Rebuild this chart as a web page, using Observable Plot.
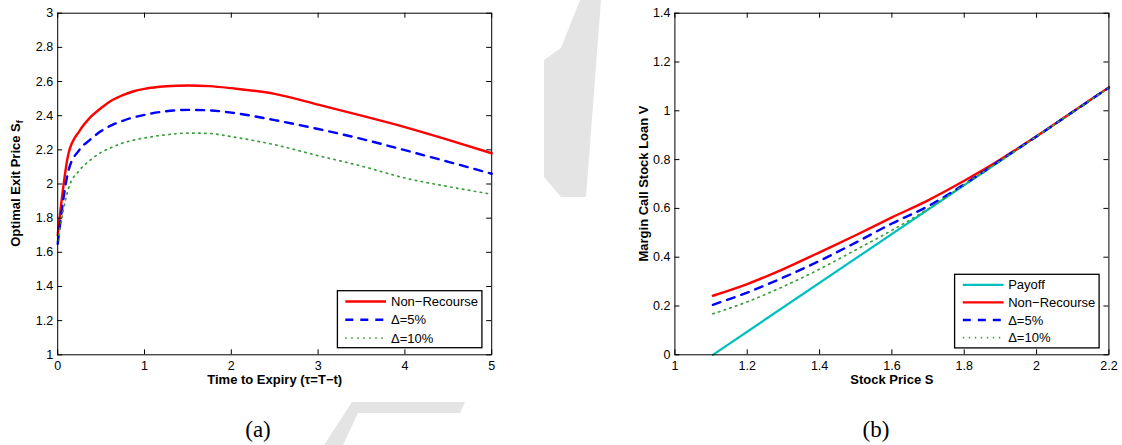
<!DOCTYPE html>
<html>
<head>
<meta charset="utf-8">
<script src="https://cdn.jsdelivr.net/npm/d3@7"></script>
<script src="https://cdn.jsdelivr.net/npm/@observablehq/plot@0.6"></script>
<style>
  body { margin: 0; background: #fff; }
  #wrap { position: relative; width: 1122px; height: 445px; overflow: hidden; background: #fff; }
  #bg { position: absolute; left: 0; top: 0; }
  .panel { position: absolute; top: 0; }
</style>
</head>
<body>
<div id="wrap">
  <svg id="bg" width="1122" height="445"></svg>
  <div class="panel" id="pa" style="left:0px"></div>
  <div class="panel" id="pb" style="left:561px"></div>
</div>
<script>
// ---------- data: panel (a) ----------
const tau = [0, 0.125, 0.25, 0.375, 0.5, 0.625, 0.75, 0.875, 1, 1.25, 1.5, 1.75, 2, 2.5, 3, 3.5, 4, 4.5, 5];
const sfNonRecourse = [1.70, 2.18, 2.31, 2.39, 2.445, 2.49, 2.52, 2.543, 2.557, 2.572, 2.577, 2.573, 2.561, 2.528, 2.465, 2.400, 2.333, 2.258, 2.18];
const sfDelta5 = [1.65, 2.08, 2.20, 2.26, 2.31, 2.345, 2.37, 2.39, 2.405, 2.426, 2.434, 2.431, 2.418, 2.374, 2.322, 2.264, 2.198, 2.130, 2.06];
const sfDelta10 = [1.665, 1.975, 2.08, 2.14, 2.185, 2.215, 2.24, 2.257, 2.27, 2.288, 2.298, 2.296, 2.277, 2.230, 2.166, 2.105, 2.035, 1.985, 1.94];
const xTicksA = [0, 1, 2, 3, 4, 5];
const yTicksA = [1, 1.2, 1.4, 1.6, 1.8, 2, 2.2, 2.4, 2.6, 2.8, 3];

// ---------- data: panel (b) ----------
const stock = [1.105, 1.2, 1.3, 1.4, 1.5, 1.6, 1.7, 1.8, 1.9, 1.95, 2.0, 2.1, 2.2];
const vNonRecourse = [0.242, 0.290, 0.351, 0.420, 0.490, 0.563, 0.633, 0.713, 0.800, 0.848, 0.896, 0.996, 1.096];
const vDelta5 = [0.205, 0.255, 0.317, 0.385, 0.460, 0.538, 0.609, 0.699, 0.797, 0.846, 0.895, 0.995, 1.095];
const vDelta10 = [0.168, 0.217, 0.280, 0.351, 0.430, 0.510, 0.598, 0.697, 0.795, 0.845, 0.895, 0.995, 1.095];
const payoffS = [1.105, 2.2];
const payoffV = [0, 1.095];
const xTicksB = [1, 1.2, 1.4, 1.6, 1.8, 2, 2.2];
const yTicksB = [0, 0.2, 0.4, 0.6, 0.8, 1, 1.2, 1.4];

// ---------- text ----------
const labelsA = {x: "Time to Expiry (\u03C4=T\u2212t)", y: "Optimal Exit Price S", ySub: "f"};
const labelsB = {x: "Stock Price S", y: "Margin Call Stock Loan V", ySub: ""};
const legendA = ["Non\u2212Recourse", "\u0394=5%", "\u0394=10%"];
const legendB = ["Payoff", "Non\u2212Recourse", "\u0394=5%", "\u0394=10%"];
const captions = ["(a)", "(b)"];

// ---------- styles ----------
const sty = {
  payoff: {stroke: "#00bfbf", strokeWidth: 2.2},
  nr: {stroke: "#ff0000", strokeWidth: 2.4},
  d5: {stroke: "#0000ff", strokeWidth: 2.4, strokeDasharray: "8,7"},
  d10: {stroke: "#3a9e3a", strokeWidth: 1.7, strokeDasharray: "1.4,4.6"}
};
const fmt = d3.format("~g");
const FONT = "'Liberation Sans', Arial, Helvetica, sans-serif";

const W = 561, H = 400, MT = 12.7, MB = 45.7;

function panel({marginLeft, marginRight, xDomain, yDomain, xTicks, yTicks, lines, labels}) {
  const plotW = W - marginLeft - marginRight;
  const plotH = H - MT - MB;
  const svg = Plot.plot({
    width: W, height: H,
    marginLeft, marginRight, marginTop: MT, marginBottom: MB,
    x: {domain: xDomain},
    y: {domain: yDomain},
    style: {background: "transparent", color: "black", fontFamily: FONT, fontSize: "13px", overflow: "visible"},
    marks: [
      ...lines,
      Plot.frame({stroke: "black", strokeWidth: 1}),
      Plot.tickX(xTicks, {x: d => d, stroke: "black", insetTop: plotH - 5}),
      Plot.tickX(xTicks, {x: d => d, stroke: "black", insetBottom: plotH - 5}),
      Plot.tickY(yTicks, {y: d => d, stroke: "black", insetRight: plotW - 5}),
      Plot.tickY(yTicks, {y: d => d, stroke: "black", insetLeft: plotW - 5}),
      Plot.axisX({ticks: xTicks, tickSize: 0, tickPadding: 6.5, tickFormat: fmt, label: null, fontSize: 12.5}),
      Plot.axisY({ticks: yTicks, tickSize: 0, tickPadding: 4.5, tickFormat: fmt, label: null, fontSize: 12.5}),
      Plot.text([labels.x], {text: d => d, frameAnchor: "bottom", dy: 29, fontWeight: "bold", fontSize: 13})
    ]
  });
  return svg;
}

function yLabel(svg, x, y, label, sub) {
  const t = d3.select(svg).append("text")
    .attr("transform", `translate(${x},${y}) rotate(-90)`)
    .attr("text-anchor", "middle")
    .attr("font-family", FONT)
    .attr("font-weight", "bold")
    .attr("font-size", 13)
    .attr("fill", "black");
  t.append("tspan").attr("dy", "0.35em").text(label);
  if (sub) t.append("tspan").attr("font-size", 9).attr("dy", 3.5).text(sub);
}

function legend(svg, box, names, styles) {
  const g = d3.select(svg).append("g").attr("text-anchor", "start");
  g.append("rect").attr("x", box.x).attr("y", box.y).attr("width", box.w).attr("height", box.h)
    .attr("fill", "white").attr("stroke", "black").attr("stroke-width", 1.3);
  names.forEach((name, i) => {
    const y = box.y0 + i * box.dy;
    const s = styles[i];
    g.append("line").attr("x1", box.lx1).attr("x2", box.lx2).attr("y1", y).attr("y2", y)
      .attr("stroke", s.stroke).attr("stroke-width", s.strokeWidth)
      .attr("stroke-dasharray", s.strokeDasharray || null);
    g.append("text").attr("x", box.tx).attr("y", y).attr("dy", "0.36em")
      .attr("text-anchor", "start")
      .attr("font-family", FONT).attr("font-size", 13).attr("fill", "black").text(name);
  });
}

const curve = "monotone-x";

// ---------- panel (a) ----------
const svgA = panel({
  marginLeft: 57.2, marginRight: 69.8,
  xDomain: [0, 5], yDomain: [1, 3], xTicks: xTicksA, yTicks: yTicksA, labels: labelsA,
  lines: [
    Plot.line(tau, {x: d => d, y: (d, i) => sfNonRecourse[i], curve, ...sty.nr}),
    Plot.line(tau, {x: d => d, y: (d, i) => sfDelta5[i], curve, ...sty.d5}),
    Plot.line(tau, {x: d => d, y: (d, i) => sfDelta10[i], curve, ...sty.d10})
  ]
});
yLabel(svgA, 15, 183.5, labelsA.y, labelsA.ySub);
legend(svgA, {x: 337.4, y: 290.7, w: 144.5, h: 57, y0: 301.5, dy: 18.3, lx1: 345.3, lx2: 386, tx: 391},
  legendA, [sty.nr, sty.d5, sty.d10]);
document.getElementById("pa").appendChild(svgA);

// ---------- panel (b) ----------
const svgB = panel({
  marginLeft: 113.4, marginRight: 13.6,
  xDomain: [1, 2.2], yDomain: [0, 1.4], xTicks: xTicksB, yTicks: yTicksB, labels: labelsB,
  lines: [
    Plot.line(payoffS, {x: d => d, y: (d, i) => payoffV[i], ...sty.payoff}),
    Plot.line(stock, {x: d => d, y: (d, i) => vNonRecourse[i], curve, ...sty.nr}),
    Plot.line(stock, {x: d => d, y: (d, i) => vDelta5[i], curve, ...sty.d5}),
    Plot.line(stock, {x: d => d, y: (d, i) => vDelta10[i], curve, ...sty.d10})
  ]
});
yLabel(svgB, 82.3, 183.5, labelsB.y, labelsB.ySub);
legend(svgB, {x: 393.6, y: 274.3, w: 144.5, h: 73.6, y0: 284.8, dy: 17.6, lx1: 401.8, lx2: 442.6, tx: 447.2},
  legendB, [sty.payoff, sty.nr, sty.d5, sty.d10]);
document.getElementById("pb").appendChild(svgB);

// ---------- background: watermark fragments and captions ----------
const bg = d3.select("#bg");
const wm = "#e4e4e4";
bg.append("polygon").attr("fill", wm)
  .attr("points", "544,60 561,48 580,0 601,0 586,197 561,197 544,177");
bg.append("polygon").attr("fill", wm)
  .attr("points", "352,402 465,402 460,413 358,413 343,445 324,445");
[[258, 437], [876, 437]].forEach(([x, y], i) => {
  bg.append("text").attr("x", x).attr("y", y).attr("text-anchor", "middle")
    .attr("font-family", "'Liberation Serif', 'DejaVu Serif', serif").attr("font-size", 23)
    .attr("fill", "black").text(captions[i]);
});
</script>
</body>
</html>
